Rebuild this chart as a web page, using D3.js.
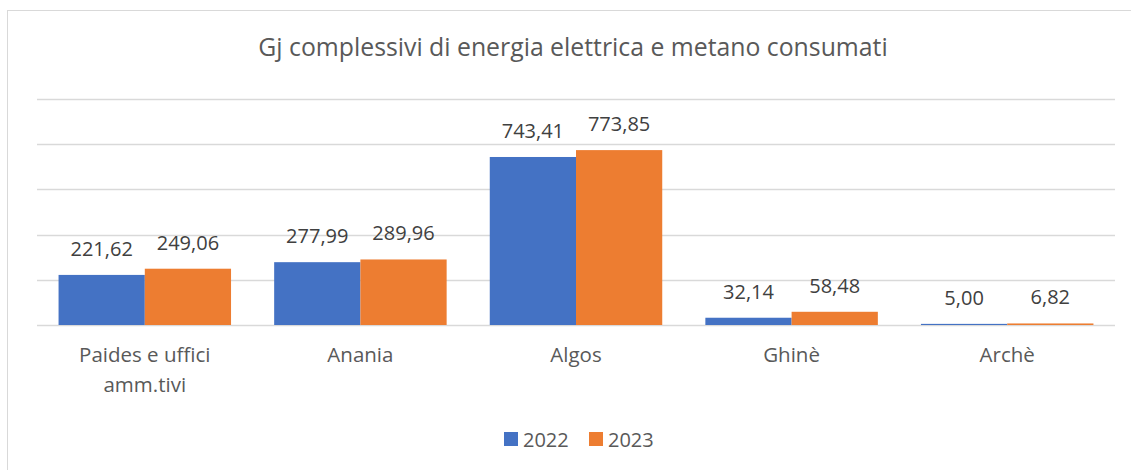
<!DOCTYPE html>
<html>
<head>
<meta charset="utf-8">
<script src="https://cdn.jsdelivr.net/npm/d3@7"></script>
<style>
  body { margin: 0; background: #fff; }
  text { font-family: 'Open Sans', 'Noto Sans', sans-serif; }
</style>
</head>
<body>
<div class="chart"></div>
<script>
const width = 1131
const height = 470

const categories = ['Paides e uffici amm.tivi', 'Anania', 'Algos', 'Ghinè', 'Archè']
const series = ['2022', '2023']
const values2022 = [221.62, 277.99, 743.41, 32.14, 5.0]
const values2023 = [249.06, 289.96, 773.85, 58.48, 6.82]
const yTicks = [0, 200, 400, 600, 800, 1000]

const theme = {
  grid: '#d9d9d9',
  label: '#404040',
  axis: '#595959',
  colors: ['#4472c4', '#ed7d31']
}

const svg = d3.select('.chart')
  .append('svg')
  .attr('width', width)
  .attr('height', height)

// chart area border
svg.append('rect')
  .attr('x', 7.5)
  .attr('y', 10.5)
  .attr('width', width)
  .attr('height', height)
  .attr('fill', 'none')
  .attr('stroke', theme.grid)

svg.append('text')
  .attr('x', 573)
  .attr('y', 56)
  .attr('text-anchor', 'middle')
  .attr('fill', theme.axis)
  .style('font-size', '24.8px')
  .text('Gj complessivi di energia elettrica e metano consumati')

const x0 = d3.scaleBand()
  .domain(categories)
  .range([37, 1115])
  .paddingInner(0.2)
  .paddingOuter(0.1)

const x1 = d3.scaleBand()
  .domain(series)
  .range([0, x0.bandwidth()])

const y = d3.scaleLinear()
  .domain([0, 1000])
  .range([325, 99])

svg.append('g')
  .selectAll('line')
  .data(yTicks)
  .join('line')
  .attr('x1', 37)
  .attr('x2', 1115)
  .attr('y1', d => Math.round(y(d)) + 0.5)
  .attr('y2', d => Math.round(y(d)) + 0.5)
  .attr('stroke', theme.grid)
  .attr('stroke-width', 1.3)

const rows = categories.map((c, i) => ({
  cat: c,
  vals: [values2022[i], values2023[i]]
}))

const groups = svg.append('g')
  .selectAll('g')
  .data(rows)
  .join('g')
  .attr('transform', d => `translate(${x0(d.cat)},0)`)

groups.selectAll('rect')
  .data(d => d.vals.map((v, i) => ({ key: series[i], v: v, i: i })))
  .join('rect')
  .attr('x', d => x1(d.key))
  .attr('width', x1.bandwidth())
  .attr('y', d => y(d.v))
  .attr('height', d => y(0) - y(d.v))
  .attr('fill', d => theme.colors[d.i])

groups.selectAll('text.val')
  .data(d => d.vals.map((v, i) => ({ key: series[i], v: v })))
  .join('text')
  .attr('class', 'val')
  .attr('x', d => x1(d.key) + x1.bandwidth() / 2)
  .attr('y', d => y(d.v) - 19)
  .attr('text-anchor', 'middle')
  .attr('fill', theme.label)
  .style('font-size', '20px')
  .text(d => d3.format('.2f')(d.v).replace('.', ','))

// category labels, wrapped like the original
const catLines = {
  'Paides e uffici amm.tivi': ['Paides e uffici', 'amm.tivi']
}

svg.append('g')
  .selectAll('text')
  .data(categories)
  .join('text')
  .attr('x', d => x0(d) + x0.bandwidth() / 2)
  .attr('y', 362)
  .attr('text-anchor', 'middle')
  .attr('fill', theme.axis)
  .style('font-size', '20.5px')
  .each(function(d) {
    const lines = catLines[d] || [d]
    d3.select(this)
      .selectAll('tspan')
      .data(lines)
      .join('tspan')
      .attr('x', x0(d) + x0.bandwidth() / 2)
      .attr('dy', (l, i) => (i === 0 ? 0 : 30))
      .text(l => l)
  })

// legend
const legend = svg.append('g')
  .selectAll('g')
  .data(series)
  .join('g')
  .attr('transform', (d, i) => `translate(${504 + i * 85},432)`)

legend.append('rect')
  .attr('width', 14)
  .attr('height', 14)
  .attr('fill', (d, i) => theme.colors[i])

legend.append('text')
  .attr('x', 19)
  .attr('y', 14.5)
  .attr('fill', theme.axis)
  .style('font-size', '20px')
  .text(d => d)
</script>
</body>
</html>
